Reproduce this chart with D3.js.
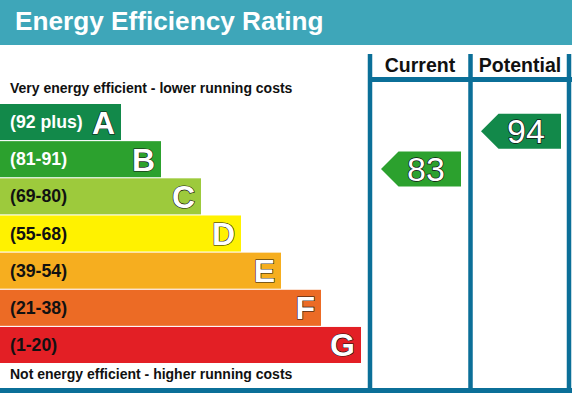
<!DOCTYPE html>
<html>
<head>
<meta charset="utf-8">
<script src="https://cdn.jsdelivr.net/npm/d3@7"></script>
<style>
  body { margin: 0; background: #fff; }
  svg { display: block; font-family: "Liberation Sans", Arial, sans-serif; }
</style>
</head>
<body>
<svg id="chart"></svg>
<script>
const global_width = 572,
  global_height = 395;

// bands, top to bottom
const letters = ['A', 'B', 'C', 'D', 'E', 'F', 'G'];
const ranges = ['(92 plus)', '(81-91)', '(69-80)', '(55-68)', '(39-54)', '(21-38)', '(1-20)'];
const bandMax = [100, 91, 80, 68, 54, 38, 20];
const bandMin = [92, 81, 69, 55, 39, 21, 1];
const bandColors = ['#12894a', '#2ca12e', '#9dca3c', '#fff200', '#f6ae1f', '#ec6b25', '#e31f25'];
const labelColors = ['#fff', '#fff', '#111', '#111', '#111', '#111', '#111'];

// ratings
const columns = ['Current', 'Potential'];
const ratings = [83, 94];

const border = '#0b6f98';

const svg = d3.select('svg#chart')
  .attr('width', global_width)
  .attr('height', global_height);

// header
svg.append('rect')
  .attr('x', 0).attr('y', 0)
  .attr('width', global_width).attr('height', 45)
  .attr('fill', '#3ea6b9');

svg.append('text')
  .attr('x', 15)
  .attr('y', 30)
  .attr('fill', '#fff')
  .attr('font-size', 26.2)
  .attr('font-weight', 'bold')
  .text('Energy Efficiency Rating');

// scales
const yScale = d3.scaleBand()
  .domain(letters)
  .range([104, 363])
  .paddingInner(0.03);

const widthScale = d3.scaleLinear()
  .domain([0, letters.length - 1])
  .range([121, 361]);

const colScale = d3.scaleBand()
  .domain(columns)
  .range([370, 570]);

// bars
const bars = svg.append('g').attr('id', 'bars');
letters.forEach((l, i) => {
  const y = yScale(l), w = widthScale(i);
  bars.append('rect')
    .attr('x', 0).attr('y', y)
    .attr('width', w).attr('height', yScale.bandwidth())
    .attr('fill', bandColors[i]);
  bars.append('text')
    .attr('x', 10)
    .attr('y', y + yScale.bandwidth() / 2 + 6)
    .attr('fill', labelColors[i])
    .attr('font-size', 17.7)
    .attr('font-weight', 'bold')
    .text(ranges[i]);
  bars.append('text')
    .attr('x', w - 6)
    .attr('y', y + yScale.bandwidth() / 2 + 11.5)
    .attr('text-anchor', 'end')
    .attr('fill', '#fff')
    .attr('stroke', '#111')
    .attr('stroke-width', 1.2)
    .attr('paint-order', 'stroke')
    .attr('font-size', 32)
    .attr('font-weight', 'bold')
    .text(l);
});

svg.append('text')
  .attr('x', 10).attr('y', 93)
  .attr('font-size', 14).attr('font-weight', 'bold').attr('fill', '#111')
  .text('Very energy efficient - lower running costs');

svg.append('text')
  .attr('x', 10).attr('y', 379)
  .attr('font-size', 14).attr('font-weight', 'bold').attr('fill', '#111')
  .text('Not energy efficient - higher running costs');

// column headers
columns.forEach(c => {
  svg.append('text')
    .attr('x', colScale(c) + colScale.bandwidth() / 2)
    .attr('y', 72)
    .attr('text-anchor', 'middle')
    .attr('font-size', 19.5)
    .attr('font-weight', 'bold')
    .attr('fill', '#111')
    .text(c);
});

// rating arrows
ratings.forEach((r, k) => {
  const i = letters.findIndex((l, j) => r >= bandMin[j]);
  const inBand = d3.scaleLinear().domain([bandMax[i], bandMin[i]]).range([0, 13]);
  const top = yScale(letters[i]) + inBand(r);
  const h = 35;
  const x0 = colScale(columns[k]) + 11, x1 = colScale(columns[k]) + 91;
  const pts = [[x0, top + h / 2], [x0 + h / 2, top], [x1, top], [x1, top + h], [x0 + h / 2, top + h]];
  svg.append('path')
    .attr('d', d3.line()(pts) + 'Z')
    .attr('fill', bandColors[i]);
  svg.append('text')
    .attr('x', x0 + 45)
    .attr('y', top + h / 2 + 12)
    .attr('text-anchor', 'middle')
    .attr('fill', '#fff')
    .attr('stroke', '#111')
    .attr('stroke-width', 1.4)
    .attr('paint-order', 'stroke')
    .attr('font-size', 34)
    .text(r);
});

// frame lines
const frame = svg.append('g').attr('stroke', border).attr('fill', 'none');
[370, 470.5, 569].forEach(x => {
  frame.append('line')
    .attr('x1', x).attr('x2', x)
    .attr('y1', 54).attr('y2', 393)
    .attr('stroke-width', 4.5);
});
frame.append('line')
  .attr('x1', 368).attr('x2', 572)
  .attr('y1', 79.5).attr('y2', 79.5)
  .attr('stroke-width', 5);
frame.append('line')
  .attr('x1', 0).attr('x2', 572)
  .attr('y1', 390.5).attr('y2', 390.5)
  .attr('stroke-width', 5);
</script>
</body>
</html>
